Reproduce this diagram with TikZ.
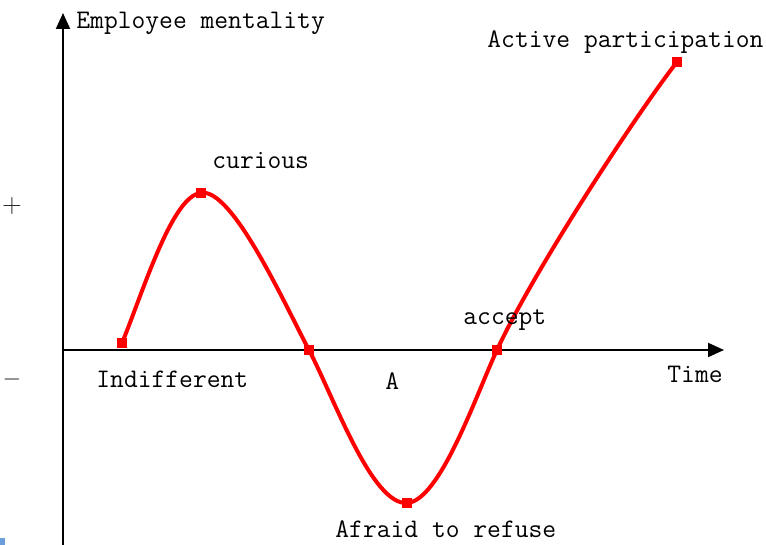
\documentclass[tikz,border=0pt]{standalone}
\usepackage{tikz}
\usetikzlibrary{arrows.meta}

\begin{document}
\begin{tikzpicture}[
  x=0.5pt, y=0.5pt,
  axis/.style={line width=1pt, -{Triangle[length=8pt, width=7pt]}},
  curve/.style={red, line width=2pt},
  marker/.style={fill=red, draw=none, minimum size=5pt, inner sep=0pt},
  lbl/.style={font=\ttfamily\fontsize{13.4}{15}\selectfont, inner sep=0pt, anchor=base west},
  sign/.style={font=\fontsize{13}{14}\selectfont, text=black!85, inner sep=0pt}
]
\useasboundingbox (0,0) rectangle (766,545);
% axes
\coordinate (origin) at (63,195);
\coordinate (ytop) at (63,532);
\coordinate (ybot) at (63,0);
\coordinate (xend) at (724,195);
\draw[axis] (ybot) -- (ytop);
\draw[axis] (origin) -- (xend);
% markers on the curve
\node[marker] (indiff) at (122,202) {};
\node[marker] (curious) at (201,352) {};
\node[marker] (cross1) at (309,195) {};
\node[marker] (afraid) at (407,42) {};
\node[marker] (accept) at (497,195) {};
\node[marker] (active) at (677,483) {};
\draw[curve] (indiff.center) .. controls (142,250) and (172,350) .. (curious.center)
  .. controls (232,358) and (285,240) .. (cross1.center)
  .. controls (335,145) and (372,40) .. (afraid.center)
  .. controls (440,44) and (476,150) .. (accept.center)
  .. controls (535,277) and (640,436) .. (active.center);
% labels
\node[lbl] (ylabel) at (76,516) {Employee mentality};
\node[lbl] (tcurious) at (212,376) {curious};
\node[lbl] (tindiff) at (96,157) {Indifferent};
\node[lbl] (tA) at (385,155) {A};
\node[lbl] (taccept) at (463,220) {accept};
\node[lbl] (xlabel) at (667,162) {Time};
\node[lbl] (tafraid) at (335,7) {Afraid to refuse};
\node[lbl] (tactive) at (487,497) {Active participation};
\node[sign] (plus) at (12,339) {+};
\node[sign] (minus) at (12,165) {$-$};
% corner fragment
\fill[cyan!55!blue!60] (0,0) rectangle (5,7);
\end{tikzpicture}
\end{document}
